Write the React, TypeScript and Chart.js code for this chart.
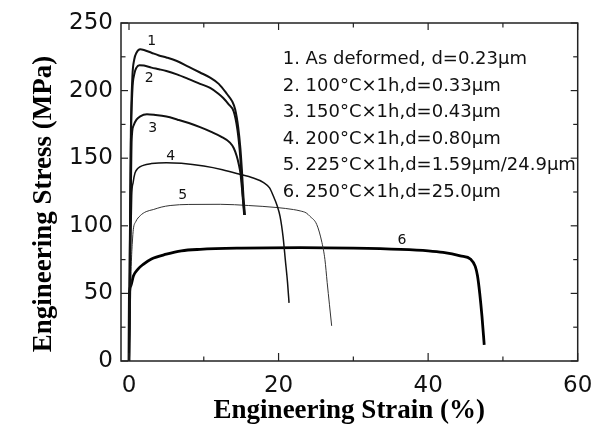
import React, { useEffect, useRef } from 'react';
import { Chart, registerables } from 'chart.js';

Chart.register(...registerables);

// Axis ticks
const xMajorTicks = [0, 20, 40, 60];
const xMinorTicks = [10, 30, 50];
const yMajorTicks = [0, 50, 100, 150, 200, 250];
const yMinorTicks = [25, 75, 125, 175, 225];

// Curve 1: As deformed
const c1X = [0, 0.1, 0.25, 0.45, 0.7, 1.0, 1.5, 2.0, 3.0, 4.0, 5.0, 6.4, 8.0, 9.5, 10.85, 12.0, 13.1, 13.8, 14.2, 14.6, 14.9, 15.1, 15.3, 15.5];
const c1Y = [0, 80, 170, 210, 223, 228, 230.5, 230, 228, 226, 224.5, 221.9, 217.5, 213.4, 209.6, 205, 197.5, 192, 186, 173, 157, 141, 122, 108];
// Curve 2: 100C x 1h
const c2X = [0, 0.1, 0.25, 0.45, 0.7, 1.0, 1.4, 2.0, 3.0, 4.0, 5.0, 6.4, 8.0, 9.5, 10.85, 12.0, 12.6, 13.3, 14.0, 14.5, 14.8, 15.0, 15.2, 15.45];
const c2Y = [0, 70, 160, 200, 212, 217, 218.7, 218.5, 217, 215.8, 214.5, 212, 208.5, 205, 202, 197.5, 194.5, 190, 184.5, 171, 156, 141, 124, 108];
// Curve 3: 150C x 1h
const c3X = [0, 0.2, 0.36, 0.6, 1.0, 1.5, 2.4, 3.5, 5.0, 6.5, 8.0, 9.5, 11.0, 12.3, 13.5, 14.0, 14.4, 14.7, 14.9, 15.1, 15.25, 15.4];
const c3Y = [0, 100, 164, 174, 178.5, 181, 182.5, 182, 180.8, 178.5, 176, 173, 169.5, 166, 161.5, 157.5, 151.6, 145, 139, 128, 118, 108];
// Curve 4: 200C x 1h
const c4X = [0, 0.2, 0.36, 0.55, 0.8, 1.2, 1.9, 3.0, 5.0, 7.0, 10.0, 12.5, 14.9, 16.5, 18.0, 18.8, 19.3, 19.8, 20.2, 20.6, 20.9, 21.2, 21.4];
const c4Y = [0, 80, 122, 132, 139, 142.5, 144.7, 146, 146.7, 146.2, 144.2, 141.5, 138, 135.5, 132, 128, 122, 115, 107, 92, 75, 58, 43];
// Curve 5: 225C x 1h
const c5X = [0, 0.15, 0.3, 0.45, 0.58, 0.9, 1.5, 2.3, 3.25, 4.3, 5.5, 8.0, 12.2, 16.0, 19.8, 22.0, 22.9, 23.7, 24.2, 25.1, 25.8, 26.2, 26.5, 26.8, 27.1];
const c5Y = [0, 30, 70, 88, 97.4, 103, 107.5, 110.5, 112, 113.8, 115, 115.8, 115.9, 115, 113.5, 112, 111, 109.5, 107, 101, 87.6, 75, 58, 42, 26];
// Curve 6: 250C x 1h
const c6X = [0, 0.05, 0.2, 0.6, 1.2, 1.9, 3.0, 5.0, 7.0, 9.5, 15.0, 22.9, 30.0, 36.3, 40.0, 42.0, 44.3, 45.7, 46.3, 46.6, 46.9, 47.2, 47.5];
const c6Y = [0, 48, 55, 63, 68, 71.5, 75.5, 79, 81.5, 82.6, 83.5, 83.9, 83.5, 82.6, 81.5, 80.3, 77.7, 75.2, 70, 63, 50, 33, 12];

// Curve number labels (data coordinates)
const curveLabelText = ['1', '2', '3', '4', '5', '6'];
const curveLabelX = [3.04, 2.71, 3.17, 5.58, 7.18, 36.5];
const curveLabelY = [236.2, 209.1, 172.1, 151.1, 122.8, 89.5];

// Legend text block
const legendLines = [
  '1. As deformed, d=0.23\u03bcm',
  '2. 100\u00b0C\u00d71h,d=0.33\u03bcm',
  '3. 150\u00b0C\u00d71h,d=0.43\u03bcm',
  '4. 200\u00b0C\u00d71h,d=0.80\u03bcm',
  '5. 225\u00b0C\u00d71h,d=1.59\u03bcm/24.9\u03bcm',
  '6. 250\u00b0C\u00d71h,d=25.0\u03bcm',
];

const xTitle = 'Engineering Strain (%)';
const yTitle = 'Engineering Stress (MPa)';

const pts = (xs: number[], ys: number[]) => xs.map((x, i) => ({ x, y: ys[i] }));

const decorPlugin = {
  id: 'decor',
  afterDatasetsDraw(chart: any) {
    const { ctx, chartArea: a, scales } = chart;
    const xs = scales.x;
    const ys = scales.y;
    ctx.save();
    ctx.strokeStyle = '#222';
    ctx.lineWidth = 1.5;
    ctx.strokeRect(a.left, a.top, a.right - a.left, a.bottom - a.top);
    ctx.lineWidth = 1.2;
    const seg = (x1: number, y1: number, x2: number, y2: number) => {
      ctx.beginPath();
      ctx.moveTo(x1, y1);
      ctx.lineTo(x2, y2);
      ctx.stroke();
    };
    xMajorTicks.forEach((v) => {
      const p = xs.getPixelForValue(v);
      seg(p, a.bottom, p, a.bottom - 8);
      seg(p, a.top, p, a.top + 7);
    });
    xMinorTicks.forEach((v) => {
      const p = xs.getPixelForValue(v);
      seg(p, a.bottom, p, a.bottom - 4.5);
      seg(p, a.top, p, a.top + 4.5);
    });
    yMajorTicks.forEach((v) => {
      const p = ys.getPixelForValue(v);
      seg(a.left, p, a.left + 7, p);
      seg(a.right, p, a.right - 7, p);
    });
    yMinorTicks.forEach((v) => {
      const p = ys.getPixelForValue(v);
      seg(a.left, p, a.left + 4.5, p);
      seg(a.right, p, a.right - 4.5, p);
    });

    // curve labels
    ctx.fillStyle = '#111';
    ctx.font = '14px "DejaVu Sans"';
    ctx.textAlign = 'center';
    ctx.textBaseline = 'middle';
    curveLabelText.forEach((t, i) => {
      ctx.fillText(t, xs.getPixelForValue(curveLabelX[i]), ys.getPixelForValue(curveLabelY[i]));
    });

    // legend text block
    ctx.font = '18px "DejaVu Sans"';
    ctx.textAlign = 'left';
    legendLines.forEach((t, i) => {
      ctx.fillText(t, a.left + 161.7, a.top + 36.3 + i * 26.55);
    });

    // axis titles
    ctx.fillStyle = '#000';
    ctx.font = 'bold 27px "Liberation Serif"';
    ctx.textAlign = 'center';
    ctx.fillText(xTitle, (a.left + a.right) / 2, a.bottom + 50);
    ctx.translate(a.left - 77, a.top + 181);
    ctx.rotate(-Math.PI / 2);
    ctx.fillText(yTitle, 0, 0);
    ctx.restore();
  },
};

export default function App() {
  const ref = useRef<HTMLCanvasElement | null>(null);
  useEffect(() => {
    if (!ref.current) return;
    const mk = (xs: number[], ys: number[], w: number, color: string) => ({
      data: pts(xs, ys),
      borderColor: color,
      borderWidth: w,
      pointRadius: 0,
      fill: false,
      showLine: true,
      cubicInterpolationMode: 'monotone' as const,
    });
    const chart = new Chart(ref.current, {
      type: 'line',
      data: {
        datasets: [
          mk(c1X, c1Y, 2, '#111'),
          mk(c2X, c2Y, 2, '#111'),
          mk(c3X, c3Y, 2, '#111'),
          mk(c4X, c4Y, 1.5, '#111'),
          mk(c5X, c5Y, 1, '#333'),
          mk(c6X, c6Y, 2.8, '#000'),
        ],
      },
      options: {
        responsive: false,
        animation: false,
        devicePixelRatio: 1,
        layout: { padding: { top: 23, right: 18.3, left: 0, bottom: 0 } },
        plugins: { legend: { display: false }, tooltip: { enabled: false } },
        scales: {
          x: {
            type: 'linear',
            min: -1.07,
            max: 60,
            grid: { display: false },
            border: { display: false },
            afterBuildTicks: (s: any) => {
              s.ticks = xMajorTicks.map((v) => ({ value: v }));
            },
            afterFit: (s: any) => {
              s.height = 67;
            },
            ticks: {
              padding: 3,
              color: '#111',
              font: { family: '"DejaVu Sans"', size: 23 },
              maxRotation: 0,
            },
          },
          y: {
            type: 'linear',
            min: 0,
            max: 250,
            grid: { display: false },
            border: { display: false },
            afterBuildTicks: (s: any) => {
              s.ticks = yMajorTicks.map((v) => ({ value: v }));
            },
            afterFit: (s: any) => {
              s.width = 121;
            },
            ticks: {
              padding: 0,
              color: '#111',
              font: { family: '"DejaVu Sans"', size: 23 },
            },
          },
        },
      },
      plugins: [decorPlugin],
    });
    return () => chart.destroy();
  }, []);
  return (
    <div style={{ position: 'fixed', left: 0, top: 0, width: 596, height: 428, background: '#fff' }}>
      <canvas ref={ref} width={596} height={428} style={{ width: 596, height: 428 }} />
    </div>
  );
}
